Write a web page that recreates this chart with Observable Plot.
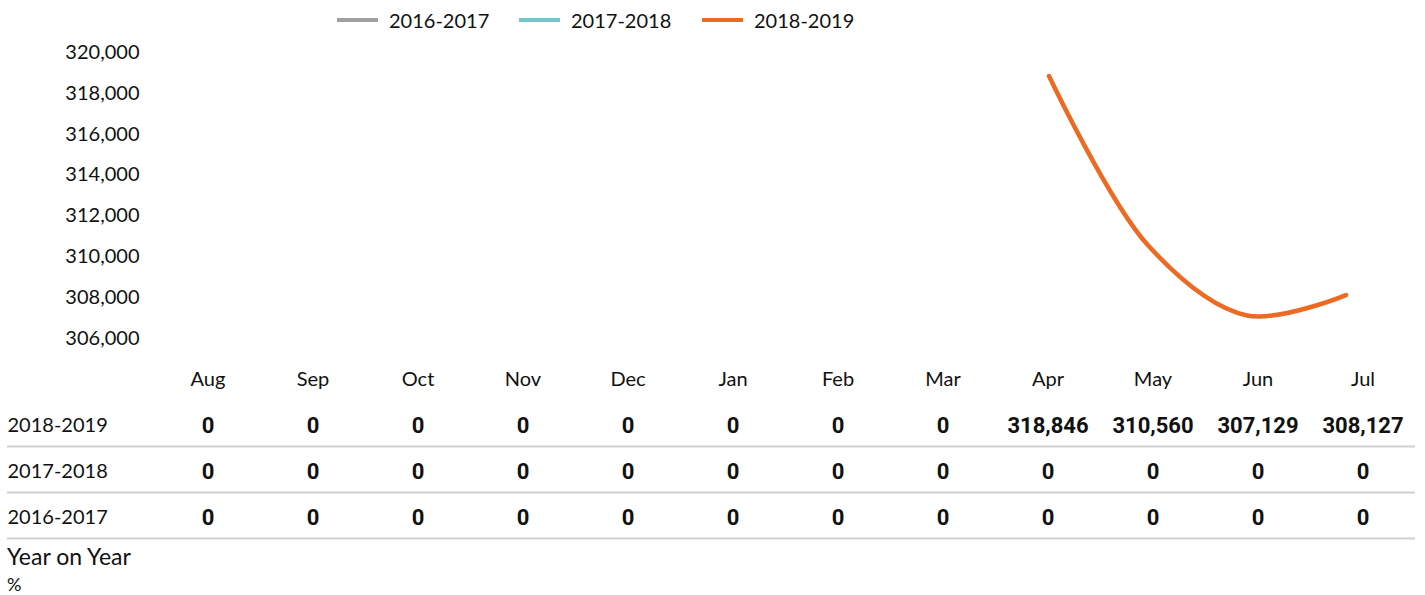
<!DOCTYPE html>
<html>
<head>
<meta charset="utf-8">
<script src="https://cdn.jsdelivr.net/npm/d3@7"></script>
<script src="https://cdn.jsdelivr.net/npm/@observablehq/plot@0.6"></script>
<style>
  body { margin: 0; background: #fff; font-family: Lato, "Open Sans", sans-serif; color: #111; }
  #legend { position: relative; height: 30px; }
  .item { position: absolute; top: 8px; display: flex; align-items: center; font-size: 20px; }
  .sw { width: 41px; height: 4px; margin-right: 11px; }
  #foot { font-size: 23px; line-height: 26px; padding-left: 7px; }
  #foot .pct { font-size: 18px; }
  svg { display: block; }
</style>
</head>
<body>
<div id="legend"></div>
<div id="chart"></div>
<div id="table"></div>
<div id="foot">Year on Year<br><span class="pct">%</span></div>
<script>
const months = ["Aug","Sep","Oct","Nov","Dec","Jan","Feb","Mar","Apr","May","Jun","Jul"];
const seriesNames = ["2016-2017","2017-2018","2018-2019"];
const seriesColors = ["#a0a0a0","#72c6cc","#ec6a22"];
const values2016 = [0,0,0,0,0,0,0,0,0,0,0,0];
const values2017 = [0,0,0,0,0,0,0,0,0,0,0,0];
const values2018 = [0,0,0,0,0,0,0,0,318846,310560,307129,308127];
const yTicks = [306000,308000,310000,312000,314000,316000,318000,320000];
const tableRows = ["2018-2019","2017-2018","2016-2017"];

const valuesBySeries = {"2016-2017": values2016, "2017-2018": values2017, "2018-2019": values2018};
const rows = [];
for (const s of seriesNames) months.forEach((m, i) => rows.push({series: s, month: m, value: valuesBySeries[s][i]}));

// legend
const legend = document.getElementById("legend");
const lefts = [337, 519, 702];
seriesNames.forEach((s, i) => {
  const it = document.createElement("div");
  it.className = "item";
  it.style.left = lefts[i] + "px";
  it.innerHTML = `<span class="sw" style="background:${seriesColors[i]}"></span><span>${s}</span>`;
  legend.appendChild(it);
});

const fmt = d3.format(",");

// chart
const chart = Plot.plot({
  width: 1425,
  height: 322,
  marginLeft: 206,
  marginRight: 30,
  marginTop: 22,
  marginBottom: 14,
  style: {fontFamily: "Lato, 'Open Sans', sans-serif", fontSize: "20px", color: "#111", background: "#fff"},
  x: {type: "band", domain: months, padding: 0, axis: null},
  y: {domain: [306000, 320000], label: null},
  color: {domain: seriesNames, range: seriesColors},
  marks: [
    Plot.axisY({ticks: yTicks, tickFormat: fmt, tickSize: 0, tickPadding: 67, label: null, fontSize: 20}),
    Plot.line(rows.filter(d => d.value > 0), {
      x: "month", y: "value", z: "series", stroke: "series",
      strokeWidth: 4.5, curve: "catmull-rom", strokeLinecap: "round"
    })
  ]
});
document.getElementById("chart").appendChild(chart);

// table
const tableData = rows.filter(d => tableRows.includes(d.series));
const table = Plot.plot({
  width: 1425,
  height: 191,
  marginLeft: 0,
  marginRight: 10,
  marginTop: 0,
  marginBottom: 0,
  style: {fontFamily: "Lato, 'Open Sans', sans-serif", fontSize: "20px", color: "#111", background: "#fff"},
  x: {type: "band", domain: months, range: [155, 1415], padding: 0, axis: null},
  y: {type: "band", domain: ["header", ...tableRows], range: [4, 188], padding: 0, axis: null},
  marks: [
    Plot.ruleY(tableRows, {y: d => d, dy: 21, insetLeft: 7, stroke: "#cfcfcf", strokeWidth: 2}),
    Plot.text(months, {x: d => d, y: () => "header", text: d => d, fontSize: 20, fill: "#111"}),
    Plot.text(tableRows, {y: d => d, text: d => d, frameAnchor: "left", dx: 7, fontSize: 20, fill: "#111"}),
    Plot.text(tableData, {x: "month", y: "series", text: d => fmt(d.value), fontSize: 22, fontWeight: "bold",
      fontFamily: "Roboto, sans-serif", fill: "#111"})
  ]
});
document.getElementById("table").appendChild(table);
</script>
</body>
</html>
